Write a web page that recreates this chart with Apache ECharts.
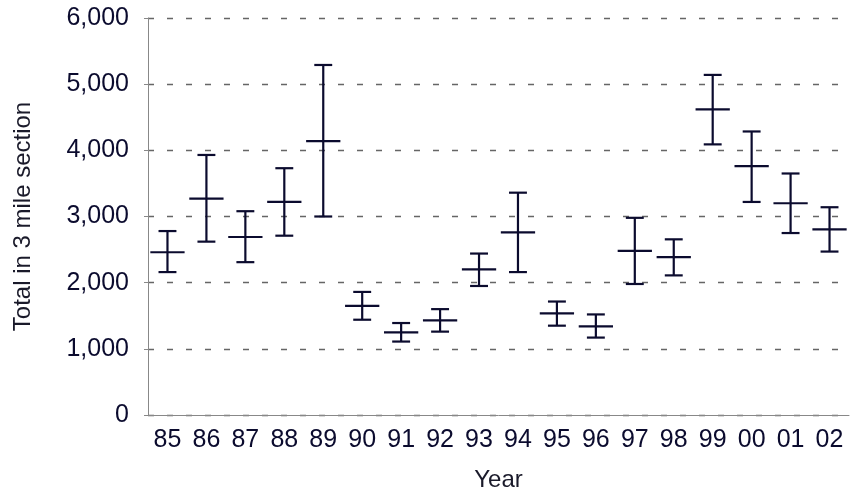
<!DOCTYPE html>
<html>
<head>
<meta charset="utf-8">
<script src="https://cdn.jsdelivr.net/npm/echarts@6/dist/echarts.min.js"></script>
<style>html,body{margin:0;padding:0;background:#fff;}#c{width:857px;height:497px;}</style>
</head>
<body>
<div id="c"></div>
<script>
const years = ['85','86','87','88','89','90','91','92','93','94','95','96','97','98','99','00','01','02'];
const means = [2460,3270,2690,3220,4140,1650,1250,1430,2200,2760,1535,1340,2480,2385,4620,3760,3200,2805];
const lows  = [2160,2620,2310,2710,3000,1440,1110,1260,1950,2160,1350,1170,1980,2110,4090,3220,2750,2470];
const highs = [2780,3930,3080,3730,5290,1860,1390,1600,2440,3360,1715,1520,2980,2655,5140,4285,3650,3140];
const yTicks = [0,1000,2000,3000,4000,5000,6000];

const data = years.map((y, i) => [i, means[i], lows[i], highs[i]]);
const ink = '#0b0b2e';
const font = 'Liberation Sans';
const chart = echarts.init(document.getElementById('c'), null, {renderer: 'canvas'});
chart.setOption({
  animation: false,
  grid: {left: 148, right: 8, top: 18, bottom: 81, containLabel: false},
  xAxis: {
    type: 'category',
    data: years,
    name: 'Year',
    nameLocation: 'middle',
    nameGap: 53,
    nameTextStyle: {fontFamily: font, fontSize: 24, color: '#1a1a2a'},
    axisLine: {lineStyle: {color: '#888', width: 1}},
    axisTick: {show: false},
    axisLabel: {fontFamily: font, fontSize: 25, color: ink, margin: 13}
  },
  yAxis: {
    type: 'value',
    min: yTicks[0],
    max: yTicks[yTicks.length - 1],
    interval: 1000,
    name: 'Total in 3 mile section',
    nameLocation: 'middle',
    nameGap: 113,
    nameTextStyle: {fontFamily: font, fontSize: 24, color: '#1a1a2a'},
    axisLine: {show: true, lineStyle: {color: '#888', width: 1}},
    axisTick: {show: true, length: 4, lineStyle: {color: '#888'}},
    axisLabel: {
      fontFamily: font, fontSize: 25, color: ink, margin: 19,
      formatter: v => v.toLocaleString('en-US')
    },
    splitLine: {show: true, lineStyle: {color: '#666', width: 1.4, type: [6, 13]}}
  },
  series: [{
    type: 'custom',
    data: data,
    encode: {x: 0, y: [1, 2, 3]},
    renderItem: function (params, api) {
      const x = api.value(0);
      const pm = api.coord([x, api.value(1)]);
      const pl = api.coord([x, api.value(2)]);
      const ph = api.coord([x, api.value(3)]);
      const bw = api.size([1, 0])[0];
      const mh = bw * 0.44;
      const ch = bw * 0.23;
      const style = {stroke: ink, lineWidth: 2.2, fill: null};
      return {
        type: 'group',
        children: [
          {type: 'line', shape: {x1: pl[0], y1: pl[1], x2: ph[0], y2: ph[1]}, style: style},
          {type: 'line', shape: {x1: ph[0] - ch, y1: ph[1], x2: ph[0] + ch, y2: ph[1]}, style: style},
          {type: 'line', shape: {x1: pl[0] - ch, y1: pl[1], x2: pl[0] + ch, y2: pl[1]}, style: style},
          {type: 'line', shape: {x1: pm[0] - mh, y1: pm[1], x2: pm[0] + mh, y2: pm[1]}, style: style}
        ]
      };
    }
  }]
});
</script>
</body>
</html>
